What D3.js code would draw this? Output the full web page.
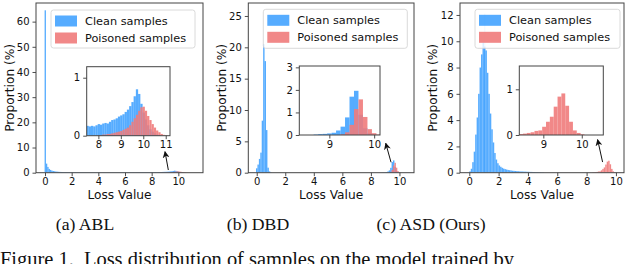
<!DOCTYPE html>
<html>
<head>
<meta charset="utf-8">
<script src="https://cdn.jsdelivr.net/npm/d3@7"></script>
<style>
body { margin: 0; background: #fff; }
svg text { font-family: "DejaVu Sans", sans-serif; }
svg text.serif { font-family: "Liberation Serif", "Times New Roman", serif; }
</style>
</head>
<body>
<svg id="fig" width="640" height="264"></svg>
<script>
// histogram bin width (loss units), the same for every series
const binWidth = 0.1;

// (a) ABL - clean samples, bins start at -0.03
const ablCleanStart = -0.03;
const ablClean = [64.5, 3.6, 2.3, 1.5, 1.1, 0.85, 0.68, 0.56, 0.47, 0.41,
    0.36, 0.32, 0.29, 0.27, 0.25, 0.23, 0.22, 0.21, 0.2, 0.19,
    0.18, 0.17, 0.17, 0.16, 0.16, 0.15, 0.15, 0.15, 0.14, 0.14,
    0.14, 0.13, 0.13, 0.13, 0.13, 0.12, 0.12, 0.12, 0.12, 0.12,
    0.12, 0.11, 0.12, 0.11, 0.12, 0.12, 0.11, 0.12, 0.12, 0.12,
    0.12, 0.13, 0.12, 0.13, 0.13, 0.13, 0.14, 0.13, 0.14, 0.14,
    0.14, 0.15, 0.14, 0.15, 0.15, 0.15, 0.16, 0.15, 0.16, 0.16,
    0.16, 0.17, 0.16, 0.17, 0.17,
    0.17, 0.16, 0.17, 0.16, 0.18, 0.2, 0.19, 0.21, 0.22, 0.21,
    0.24, 0.27, 0.28, 0.3, 0.33, 0.35, 0.37, 0.41, 0.45, 0.51,
    0.58, 0.68, 0.8, 0.72, 0.55, 0.4, 0.28, 0.18, 0.11, 0.07,
    0.04, 0.02, 0.01];
// (a) ABL - poisoned samples
const ablPoisonStart = 7.97;
const ablPoison = [0.01, 0.01, 0.02, 0.02, 0.03, 0.03, 0.04, 0.05, 0.06, 0.07,
    0.08, 0.1, 0.12, 0.14, 0.18, 0.24, 0.3, 0.36, 0.43, 0.49,
    0.5, 0.43, 0.34, 0.27, 0.2, 0.14, 0.09, 0.06, 0.03, 0.015, 0.005];

// (b) DBD
const dbdCleanStart = -0.05;
const dbdClean = [0.7, 1.3, 2.2, 3.2, 8.3, 20.5, 17.8, 6.8, 0.8, 0.2, 0.05];
const dbdCleanHighStart = 8.65;
const dbdCleanHigh = [0.02, 0.04, 0.05, 0.07, 0.1, 0.2, 0.37, 0.78, 1.7, 1.96, 0.9, 0.3, 0.08, 0.02];
const dbdPoisonStart = 9.25;
const dbdPoison = [0.03, 0.12, 0.45, 1.15, 1.58, 0.8, 0.26, 0.08, 0.02];

// (c) ASD (Ours)
const asdCleanStart = 0.0;
const asdClean = [0.1, 0.3, 0.8, 1.6, 2.9, 4.2, 6.0, 8.0, 9.0, 9.9,
    9.6, 9.3, 7.6, 6.0, 4.5, 3.3, 2.3, 1.5, 1.0, 0.72,
    0.55, 0.45, 0.37, 0.31, 0.27, 0.24, 0.21, 0.19, 0.17, 0.15,
    0.14, 0.13, 0.12, 0.11, 0.1, 0.09, 0.09, 0.08, 0.08, 0.07,
    0.07, 0.06, 0.06, 0.05, 0.05, 0.04, 0.04, 0.03, 0.03, 0.02, 0.02];
// faint lighter bar that rises above the ASD peak
const asdCleanPaleStart = 1.0;
const asdCleanPale = [12.1];
const asdPoisonStart = 8.37;
const asdPoison = [0.02, 0.03, 0.045, 0.06, 0.09, 0.1, 0.18, 0.29, 0.4, 0.62,
    0.84, 0.91, 0.64, 0.29, 0.1, 0.045, 0.015];

const legendLabels = ["Clean samples", "Poisoned samples"];
const captions = ["(a) ABL", "(b) DBD", "(c) ASD (Ours)"];
const figureCaption = "Figure 1.  Loss distribution of samples on the model trained by";

const mainXTicks = [0, 2, 4, 6, 8, 10];
const ablYTicks = [0, 10, 20, 30, 40, 50, 60];
const dbdYTicks = [0, 5, 10, 15, 20, 25];
const asdYTicks = [0, 2, 4, 6, 8, 10, 12];
const ablInsetXTicks = [8, 9, 10, 11];
const ablInsetYTicks = [0, 1];
const dbdInsetXTicks = [9, 10];
const dbdInsetYTicks = [0, 1, 2, 3];
const asdInsetXTicks = [9, 10];
const asdInsetYTicks = [0, 1];

const blue = "#1e90ff";
const red = "#ef7b7b";

function toBins(start, values) {
    return values.map((v, i) => ({x0: start + i * binWidth, v: v}));
}

const panels = [
    {
        box: [36, 203, 3, 172.7], xDomain: [-0.675, 11.85], yDomain: [0, 67.4], yTicks: ablYTicks,
        clean: [toBins(ablCleanStart, ablClean)], pale: [], poison: toBins(ablPoisonStart, ablPoison),
        inset: {box: [86.7, 170, 66.7, 135.7], xDomain: [7.48, 11.19], yDomain: [0, 1.19],
            xTicks: ablInsetXTicks, yTicks: ablInsetYTicks},
        legend: [51, 10, 144, 38],
        arrow: {from: [9.25, 1.07], to: [9.0, 8.35]},
        ylabelX: 9.5, caption: captions[0], captionX: 85
    },
    {
        box: [248.3, 414, 3, 172.7], xDomain: [-0.59, 11.02], yDomain: [0, 27.07], yTicks: dbdYTicks,
        clean: [toBins(dbdCleanStart, dbdClean), toBins(dbdCleanHighStart, dbdCleanHigh)], pale: [],
        poison: toBins(dbdPoisonStart, dbdPoison),
        inset: {box: [299.3, 380, 66, 135], xDomain: [8.33, 10.13], yDomain: [0, 3.06],
            xTicks: dbdInsetXTicks, yTicks: dbdInsetYTicks},
        legend: [263.3, 9.3, 144, 39],
        arrow: {from: [9.41, 1.66], to: [9.04, 4.69]},
        ylabelX: 221.5, caption: captions[1], captionX: 258
    },
    {
        box: [460, 624, 3, 172.7], xDomain: [-0.634, 10.55], yDomain: [0, 12.91], yTicks: asdYTicks,
        clean: [toBins(asdCleanStart, asdClean)], pale: toBins(asdCleanPaleStart, asdCleanPale),
        poison: toBins(asdPoisonStart, asdPoison),
        inset: {box: [519.3, 603.3, 66, 135], xDomain: [8.375, 10.56], yDomain: [0, 1.51],
            xTicks: asdInsetXTicks, yTicks: asdInsetYTicks},
        legend: [475, 9.3, 145, 39],
        arrow: {from: [9.09, 0.81], to: [8.75, 2.52]},
        ylabelX: 433, caption: captions[2], captionX: 431
    }
];

const svg = d3.select("#fig");
const defs = svg.append("defs");
defs.append("marker")
    .attr("id", "head")
    .attr("viewBox", "0 0 10 10")
    .attr("refX", 9).attr("refY", 5)
    .attr("markerWidth", 7).attr("markerHeight", 7)
    .attr("markerUnits", "userSpaceOnUse")
    .attr("orient", "auto")
    .append("path")
    .attr("d", "M0,0 L10,5 L0,10 L3,5 Z")
    .attr("fill", "#111");

let clipCount = 0;

// draws one set of axes (main plot or inset) with the histogram bars
function drawAxes(g, box, xDomain, yDomain, xTicks, yTicks, p, isInset) {
    const [left, right, top, bottom] = box;
    const x = d3.scaleLinear().domain(xDomain).range([left, right]);
    const y = d3.scaleLinear().domain(yDomain).range([bottom, top]);

    const clipId = "clip" + (clipCount++);
    defs.append("clipPath").attr("id", clipId)
        .append("rect").attr("x", left).attr("y", top)
        .attr("width", right - left).attr("height", bottom - top);

    if (isInset) {
        g.append("rect").attr("x", left).attr("y", top)
            .attr("width", right - left).attr("height", bottom - top)
            .attr("fill", "#fff");
    }

    const bars = g.append("g").attr("clip-path", "url(#" + clipId + ")");
    const drawBins = (bins, color, opacity) => {
        bars.append("g").selectAll("rect")
            .data(bins.filter(d => d.x0 + binWidth > xDomain[0] && d.x0 < xDomain[1]))
            .join("rect")
            .attr("x", d => x(d.x0))
            .attr("width", d => x(d.x0 + binWidth) - x(d.x0))
            .attr("y", d => y(d.v))
            .attr("height", d => y(0) - y(d.v))
            .attr("fill", color)
            .attr("fill-opacity", opacity);
    };
    drawBins(p.pale, "#cfe5fb", 1);
    p.clean.forEach(bins => drawBins(bins, blue, 0.75));
    drawBins(p.poison, red, 0.9);

    const xAx = g.append("g")
        .attr("transform", "translate(0," + bottom + ")")
        .call(d3.axisBottom(x).tickValues(xTicks).tickFormat(d3.format("d"))
            .tickSize(3.5).tickSizeOuter(0).tickPadding(2));
    const yAx = g.append("g")
        .attr("transform", "translate(" + left + ",0)")
        .call(d3.axisLeft(y).tickValues(yTicks).tickFormat(d3.format("d"))
            .tickSize(3.5).tickSizeOuter(0).tickPadding(3));
    [xAx, yAx].forEach(a => {
        a.select(".domain").remove();
        a.selectAll("line").attr("stroke", "#222").attr("stroke-width", 0.8);
        a.selectAll("text").attr("font-size", 10).attr("fill", "#111");
    });

    g.append("rect").attr("x", left).attr("y", top)
        .attr("width", right - left).attr("height", bottom - top)
        .attr("fill", "none").attr("stroke", "#444").attr("stroke-width", 1);

    return {x: x, y: y};
}

panels.forEach(p => {
    const g = svg.append("g");
    const main = drawAxes(g, p.box, p.xDomain, p.yDomain, mainXTicks, p.yTicks, p, false);

    // legend
    const [lx, ly, lw, lh] = p.legend;
    g.append("rect").attr("x", lx).attr("y", ly).attr("width", lw).attr("height", lh)
        .attr("rx", 2.5).attr("fill", "#fff").attr("fill-opacity", 0.8)
        .attr("stroke", "#d0d0d0").attr("stroke-width", 0.8);
    legendLabels.forEach((label, i) => {
        const cy = ly + 11 + i * 17;
        g.append("rect").attr("x", lx + 4).attr("y", cy - 5.5)
            .attr("width", 22).attr("height", 11)
            .attr("fill", i === 0 ? blue : red)
            .attr("fill-opacity", i === 0 ? 0.75 : 0.9);
        g.append("text").attr("x", lx + 34).attr("y", cy + 4)
            .attr("font-size", 11.3).attr("fill", "#111").text(label);
    });

    // inset zoom on the high-loss region
    drawAxes(g, p.inset.box, p.inset.xDomain, p.inset.yDomain, p.inset.xTicks, p.inset.yTicks, p, true);

    // arrow pointing from the high-loss bars to the inset
    g.append("line")
        .attr("x1", main.x(p.arrow.from[0])).attr("y1", main.y(p.arrow.from[1]))
        .attr("x2", main.x(p.arrow.to[0])).attr("y2", main.y(p.arrow.to[1]))
        .attr("stroke", "#111").attr("stroke-width", 1)
        .attr("marker-end", "url(#head)");

    // axis labels
    const cx = (p.box[0] + p.box[1]) / 2;
    const cy = (p.box[2] + p.box[3]) / 2;
    g.append("text").attr("x", cx).attr("y", 198.5).attr("text-anchor", "middle")
        .attr("font-size", 12.2).attr("fill", "#111").text("Loss Value");
    g.append("text").attr("transform", "translate(" + (p.ylabelX + 4.3) + "," + cy + ") rotate(-90)")
        .attr("text-anchor", "middle").attr("font-size", 12.2).attr("fill", "#111")
        .text("Proportion (%)");

    // sub-figure caption
    g.append("text").attr("class", "serif").attr("x", p.captionX).attr("y", 230)
        .attr("text-anchor", "middle").attr("font-size", 17.7).attr("fill", "#111")
        .text(p.caption);
});

// page caption line, cut by the bottom edge as in the source page
svg.append("text").attr("class", "serif").attr("x", 0).attr("y", 265.5)
    .attr("font-size", 20.5).attr("fill", "#111")
    .attr("textLength", 514).attr("lengthAdjust", "spacing")
    .attr("xml:space", "preserve")
    .text(figureCaption);
</script>
</body>
</html>
